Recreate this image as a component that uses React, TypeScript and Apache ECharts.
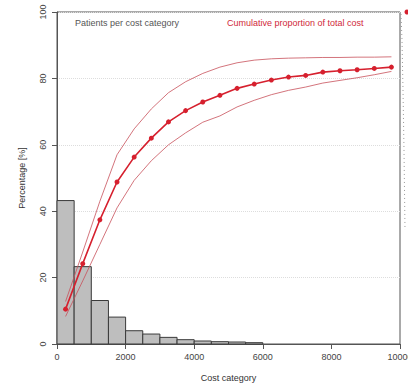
import React, { useEffect, useRef } from "react";
import * as echarts from "echarts";

const binStarts = [0, 500, 1000, 1500, 2000, 2500, 3000, 3500, 4000, 4500, 5000, 5500];
const binWidth = 500;
const patientsPct = [43.2, 23.3, 13.1, 8.1, 4.0, 3.0, 2.0, 1.3, 0.9, 0.7, 0.6, 0.4];

const midpoints = [250, 750, 1250, 1750, 2250, 2750, 3250, 3750, 4250, 4750, 5250, 5750, 6250, 6750, 7250, 7750, 8250, 8750, 9250, 9750];
const cumCost = [10.5, 24.2, 37.4, 48.8, 56.3, 62.0, 66.9, 70.3, 72.9, 74.9, 77.0, 78.3, 79.5, 80.4, 80.9, 81.9, 82.3, 82.6, 83.0, 83.4];
const cumUpper = [12.8, 27.7, 43.0, 57.0, 64.8, 70.8, 75.7, 79.0, 81.5, 83.4, 84.7, 85.5, 85.9, 86.1, 86.2, 86.3, 86.3, 86.4, 86.4, 86.5];
const cumLower = [8.3, 19.0, 30.0, 41.0, 49.3, 55.2, 60.0, 63.6, 66.8, 68.7, 71.4, 73.4, 75.1, 76.4, 77.4, 78.6, 79.4, 80.2, 81.1, 82.1];

const xTicks = { min: 0, max: 10000, interval: 2000 };
const yTicks = { min: 0, max: 100, interval: 20 };

export default function App() {
  const ref = useRef<HTMLDivElement>(null);
  useEffect(() => {
    if (!ref.current) return;
    const chart = echarts.init(ref.current, null, { renderer: "svg" });
    const font = "Liberation Sans, Arial, sans-serif";
    const histData = binStarts.map((s, i) => [s, s + binWidth, patientsPct[i]]);
    const pair = (ys: number[]) => midpoints.map((x, i) => [x, ys[i]]);
    chart.setOption({
      animation: false,
      backgroundColor: "#ffffff",
      textStyle: { fontFamily: font },
      title: [
        {
          text: "Patients per cost category",
          left: 70,
          top: 13,
          textStyle: { fontSize: 9, fontWeight: "normal", color: "#555555", fontFamily: font },
        },
        {
          text: "Cumulative proportion of total cost",
          left: 222,
          top: 13,
          textStyle: { fontSize: 9, fontWeight: "normal", color: "#d0283a", fontFamily: font },
        },
      ],
      grid: {
        left: 57,
        right: 30,
        top: 12,
        bottom: 43,
        show: true,
        borderColor: "#555555",
        borderWidth: 1,
        containLabel: false,
      },
      xAxis: {
        type: "value",
        min: xTicks.min,
        max: xTicks.max,
        interval: xTicks.interval,
        name: "Cost category",
        nameLocation: "middle",
        nameGap: 29,
        nameTextStyle: { fontSize: 9, color: "#333333", fontFamily: font },
        axisLine: { show: true, lineStyle: { color: "#555555", width: 1 } },
        axisTick: { show: true, length: 5, lineStyle: { color: "#555555" } },
        axisLabel: {
          fontSize: 9,
          color: "#444444",
          margin: 8,
          fontFamily: font,
          showMinLabel: true,
          showMaxLabel: true,
          formatter: (v: number) => String(v),
        },
        splitLine: { show: false },
      },
      yAxis: {
        type: "value",
        min: yTicks.min,
        max: yTicks.max,
        interval: yTicks.interval,
        name: "Percentage [%]",
        nameLocation: "middle",
        nameGap: 31,
        nameTextStyle: { fontSize: 9, color: "#333333", fontFamily: font },
        axisLine: { show: true, lineStyle: { color: "#555555", width: 1 } },
        axisTick: { show: true, length: 5, lineStyle: { color: "#555555" } },
        axisLabel: { fontSize: 9, color: "#444444", margin: 10, rotate: 90, fontFamily: font },
        splitLine: { show: true, lineStyle: { color: "#dddddd", type: "dotted", width: 1 } },
      },
      series: [
        {
          type: "custom",
          data: histData,
          encode: { x: [0, 1], y: 2 },
          z: 2,
          renderItem: (params: any, api: any) => {
            const p0 = api.coord([api.value(0), api.value(2)]);
            const p1 = api.coord([api.value(1), 0]);
            return {
              type: "rect",
              shape: { x: p0[0], y: p0[1], width: p1[0] - p0[0], height: p1[1] - p0[1] },
              style: { fill: "#bebebe", stroke: "#3a3a3a", lineWidth: 1 },
            };
          },
        },
        {
          type: "line",
          data: pair(cumUpper),
          showSymbol: false,
          symbol: "none",
          z: 3,
          lineStyle: { color: "#c8505a", width: 0.8 },
        },
        {
          type: "line",
          data: pair(cumLower),
          showSymbol: false,
          symbol: "none",
          z: 3,
          lineStyle: { color: "#c8505a", width: 0.8 },
        },
        {
          type: "line",
          data: pair(cumCost),
          symbol: "circle",
          symbolSize: 5,
          z: 4,
          lineStyle: { color: "#d6202e", width: 1.6 },
          itemStyle: { color: "#d6202e" },
        },
      ],
      graphic: [
        {
          type: "polyline",
          shape: { points: [[401, 14], [402, 40], [403, 90], [404, 150], [405, 230]] },
          style: { stroke: "#999999", lineWidth: 1, lineDash: [1, 3], fill: null },
        },
        {
          type: "circle",
          shape: { cx: 407, cy: 12, r: 2.5 },
          style: { fill: "#d6202e" },
        },
      ],
    });
    return () => chart.dispose();
  }, []);
  return (
    <div style={{ position: "fixed", left: 0, top: 0, width: 408, height: 387, overflow: "hidden", background: "#fff" }}>
      <div ref={ref} style={{ width: 430, height: 387 }} />
    </div>
  );
}
